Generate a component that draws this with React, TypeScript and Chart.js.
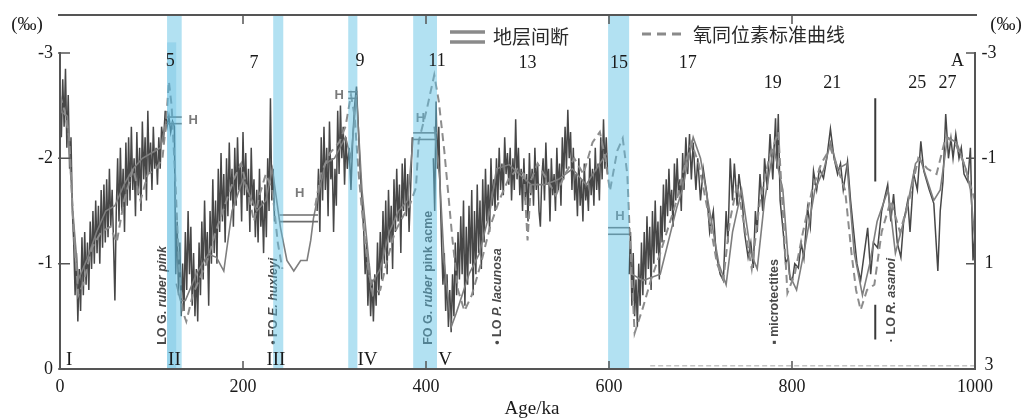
import { useEffect, useRef } from 'react';
import { Chart, registerables } from 'chart.js';

Chart.register(...registerables);

// ---------- axis definitions ----------
const AGE_MIN = 0;
const AGE_MAX = 1000;
const LEFT_TOP = -3.36;
const LEFT_BOTTOM = 0;
const RIGHT_TOP = -3.72;
const RIGHT_BOTTOM = 3;
const xTicks = [0, 200, 400, 600, 800, 1000];
const leftTicks = [-3, -2, -1, 0];
const rightTicks = [-3, -1, 1, 3];

// ---------- record (dark noisy line), segments separated by hiatuses ----------
const recordSegA: [number, number][] = [
  [0, -2.5], [1.5, -2.2], [3, -2.75], [4.5, -2.3], [6, -2.85], [7.5, -2.1], [9, -2.6], [10.5, -1.9],
  [12, -2.2], [13.5, -1.5], [15, -1.2], [16.5, -0.7], [18, -1.1], [19.5, -0.45], [21, -0.95], [22.5, -0.55],
  [24, -1.25], [25.5, -0.7], [27, -1.3], [28.5, -0.8], [30, -1.2], [31.5, -0.75], [33, -1.4], [34.5, -0.95],
  [36, -1.5], [37.5, -1.0], [39, -1.6], [40.5, -1.1], [42, -1.55], [43.5, -1.0], [45, -1.7], [46.5, -1.15],
  [48, -1.75], [49.5, -1.2], [51, -1.8], [52.5, -1.25], [54, -1.9], [55.5, -1.35], [57, -1.7], [58.5, -1.2],
  [60, -0.65], [61.5, -1.5], [63, -2.0], [64.5, -1.4], [66, -2.1], [67.5, -1.5], [69, -1.9], [70.5, -1.3],
  [72, -2.15], [73.5, -1.55], [75, -2.2], [76.5, -1.6], [78, -2.3], [79.5, -1.7], [81, -2.0], [82.5, -1.45],
  [84, -2.25], [85.5, -1.65], [87, -2.1], [88.5, -1.5], [90, -2.35], [91.5, -1.8], [93, -2.2], [94.5, -1.6],
  [96, -2.45], [97.5, -1.85], [99, -2.15], [100.5, -1.7], [102, -2.3], [103.5, -1.9], [105, -2.1], [106.5, -1.75],
  [108, -2.2], [109.5, -1.9], [111, -2.3], [113, -2.15], [115, -2.45], [117, -2.3], [119, -2.4], [121, -2.25],
  [123, -2.35], [125, -2.3], [126.5, -0.9], [128, -1.4], [129.5, -0.7], [131, -1.2], [132.5, -0.5], [134, -1.0],
  [135.5, -0.55], [137, -1.3], [138.5, -0.75], [140, -1.5], [141.5, -0.9], [143, -1.35], [144.5, -0.6], [146, -1.1],
  [147.5, -0.5], [149, -0.95], [150.5, -0.45], [152, -1.2], [153.5, -0.7], [155, -1.4], [156.5, -0.85], [158, -1.6],
  [159.5, -1.0], [161, -1.3], [162.5, -0.6], [164, -1.5], [165.5, -1.0], [167, -1.8], [168.5, -1.1], [170, -1.6],
  [171.5, -1.0], [173, -1.9], [174.5, -1.3], [176, -2.05], [177.5, -1.4], [179, -1.85], [180.5, -1.2], [182, -2.0],
  [183.5, -1.45], [185, -2.15], [186.5, -1.6], [188, -1.9], [189.5, -1.35], [191, -2.1], [192.5, -1.55], [194, -2.2],
  [195.5, -1.7], [197, -1.95], [198.5, -1.4], [200, -2.25], [201.5, -1.65], [203, -2.05], [204.5, -1.5], [206, -1.9],
  [207.5, -1.3], [209, -2.1], [210.5, -1.55], [212, -1.8], [213.5, -1.25], [215, -1.7], [216.5, -1.2], [218, -1.9],
  [219.5, -1.35], [221, -1.6], [222.5, -1.1], [224, -1.75], [225.5, -1.25], [227, -2.0], [228.5, -1.5], [230, -2.57],
  [231.5, -1.6], [233, -1.9], [234.5, -1.4],
];
const recordSegB: [number, number][] = [
  [281, -1.5], [282.5, -1.9], [284, -1.3], [285.5, -2.2], [287, -1.6], [288.5, -2.3], [290, -1.7], [291.5, -2.1],
  [293, -1.45], [294.5, -2.35], [296, -1.8], [297.5, -2.0], [299, -1.3], [300.5, -1.9], [302, -1.55], [303.5, -2.45],
  [305, -1.85], [306.5, -2.5], [308, -2.0], [309.5, -2.3], [311, -1.75], [312.5, -2.2], [314, -1.9], [316, -2.1],
  [318, -1.7], [320, -2.2], [322, -2.5], [324, -2.68], [326, -2.3], [328, -1.9], [330, -1.6], [332, -1.3],
  [333.5, -0.9], [335, -1.2], [336.5, -0.6], [338, -1.0], [339.5, -0.5], [341, -0.85], [342.5, -0.45], [344, -0.9],
  [345.5, -0.6], [347, -1.2], [348.5, -0.7], [350, -1.3], [351.5, -0.85], [353, -1.5], [354.5, -1.0], [356, -1.6],
  [357.5, -0.9], [359, -1.7], [360.5, -1.2], [362, -1.55], [363.5, -0.95], [365, -1.8], [366.5, -1.3], [368, -1.9],
  [369.5, -1.4], [371, -1.75], [372.5, -1.1], [374, -1.95], [375.5, -1.5], [377, -2.0], [378.5, -1.45], [380, -1.85],
  [381.5, -1.3], [383, -1.65], [385, -2.2],
];
const recordSegC: [number, number][] = [
  [408, -2.0], [409.5, -1.5], [411, -2.54], [412.5, -1.9], [414, -2.3], [415.5, -1.7], [417, -1.2], [418.5, -0.8],
  [420, -1.1], [421.5, -0.55], [423, -0.9], [424.5, -0.4], [426, -0.75], [427.5, -0.35], [429, -0.9], [430.5, -0.5],
  [432, -1.2], [433.5, -0.7], [435, -1.3], [436.5, -0.85], [438, -1.45], [439.5, -0.9], [441, -1.6], [442.5, -0.6],
  [444, -1.35], [445.5, -0.8], [447, -1.55], [448.5, -1.0], [450, -1.7], [451.5, -0.7], [453, -1.5], [454.5, -0.9],
  [456, -1.75], [457.5, -1.1], [459, -1.6], [460.5, -0.95], [462, -1.8], [463.5, -1.2], [465, -1.9], [466.5, -1.4],
  [468, -1.75], [469.5, -1.3], [471, -2.0], [472.5, -1.55], [474, -1.8], [475.5, -1.5], [477, -2.0], [478.5, -1.6],
  [480, -2.1], [481.5, -1.7], [483, -1.95], [484.5, -1.65], [486, -2.2], [487.5, -1.85], [489, -2.05], [490.5, -1.75],
  [492, -2.1], [493.5, -1.6], [495, -2.0], [496.5, -1.7], [498, -2.37], [499.5, -1.8], [501, -2.1], [502.5, -1.65],
  [504, -1.9], [505.5, -1.5], [507, -2.0], [508.5, -1.6], [510, -1.85], [511.5, -1.4], [513, -2.05], [514.5, -1.65],
  [516, -1.9], [517.5, -1.55], [519, -2.1], [520.5, -1.7], [522, -1.95], [523.5, -1.5], [525, -1.35], [526.5, -1.8],
  [528, -2.0], [529.5, -1.6], [531, -2.15], [532.5, -1.75], [534, -1.9], [535.5, -1.4], [537, -2.0], [538.5, -1.65],
  [540, -1.85], [541.5, -1.5], [543, -2.1], [544.5, -1.7], [546, -1.95], [547.5, -1.55], [549, -2.2], [550.5, -1.8],
  [552, -2.3], [553.5, -1.9], [555, -2.46], [556.5, -2.0], [558, -2.25], [559.5, -1.7], [561, -2.1], [562.5, -1.6],
  [564, -1.85], [565.5, -1.45], [567, -2.0], [568.5, -1.55], [570, -1.8], [571.5, -1.4], [573, -1.95], [574.5, -1.6],
  [576, -1.75], [577.5, -1.5], [579, -2.0], [580.5, -1.65], [582, -1.9], [583.5, -1.55], [585, -2.1], [586.5, -1.7],
  [588, -1.95], [589.5, -1.6], [591, -2.2], [592.5, -1.8], [594, -2.37], [595.5, -1.9], [597, -2.2], [598.5, -1.85],
];
const recordSegD: [number, number][] = [
  [622, -0.9], [623.5, -1.3], [625, -0.6], [626.5, -1.1], [628, -0.5], [629.5, -0.85], [631, -0.4], [632.5, -1.0],
  [634, -0.6], [635.5, -1.2], [637, -0.7], [638.5, -1.3], [640, -0.8], [641.5, -1.45], [643, -0.95], [644.5, -1.35],
  [646, -0.75], [647.5, -1.5], [649, -1.0], [650.5, -1.6], [652, -1.1], [653.5, -1.4], [655, -0.85], [656.5, -1.55],
  [658, -1.2], [659.5, -1.75], [661, -1.3], [662.5, -1.8], [664, -1.45], [665.5, -1.9], [667, -1.5], [668.5, -1.7],
  [670, -1.35], [671.5, -1.95], [673, -1.6], [674.5, -2.0], [676, -1.65], [677.5, -1.8], [679, -1.5], [680.5, -2.05],
  [682, -1.7], [684, -2.2], [686, -1.85], [688, -2.23], [690, -1.8], [692, -2.15], [695, -1.7], [697, -2.0],
  [700, -1.6], [703, -1.9], [707, -1.66], [710, -1.3], [714, -1.5], [717, -1.1], [721.5, -0.9], [725, -0.84],
  [728, -1.5], [730, -1.2], [732.5, -2.0], [735, -1.6], [737, -1.95], [740, -1.55], [742, -1.85], [745.6, -1.6],
  [748, -1.3], [752, -1.06], [755, -1.2], [757.7, -0.96], [760, -1.5], [762, -1.3], [765, -1.85], [768, -1.5],
  [770, -2.0], [773, -1.7], [776, -2.23], [779, -1.8], [782, -2.38], [783.5, -1.9], [785, -2.42], [787, -1.6],
  [790.6, -1.28], [793, -1.0], [796, -1.06], [798, -0.85], [800.4, -0.84], [803, -1.0], [807, -0.96], [810, -1.2],
  [813, -1.05], [817, -1.53], [820, -1.35], [823.5, -1.88], [827, -1.7], [830, -1.9], [834.4, -1.81], [838, -2.0],
  [842, -2.28], [846, -2.0], [849.8, -1.85], [853, -1.95], [856, -1.7], [860.7, -1.97], [864, -1.6], [867, -1.34],
  [871, -1.0], [875, -0.84], [879, -1.1], [882.7, -1.34], [886, -0.9], [889, -1.2], [893.6, -1.15], [898, -1.5],
  [904.6, -1.75], [908, -1.4], [911, -1.66], [915, -1.2], [919, -1.06], [922, -1.4], [926.5, -1.6], [929, -1.3],
  [933, -1.85], [937, -1.7], [940.8, -2.16], [944, -1.88], [950, -1.7], [955, -1.57], [959.4, -0.93], [962, -1.5],
  [965, -1.78], [968, -2.42], [971, -2.0], [973.7, -2.19], [976, -2.0], [979, -2.23], [982.5, -2.0], [985, -2.1],
  [988, -1.85], [992, -1.78], [995, -2.1], [997.8, -1.03], [1000, -1.3],
];

// ---------- smoothed record (medium grey solid line) ----------
const smoothSegA: [number, number][] = [
  [0, -2.45], [8, -2.4], [14, -1.5], [20, -0.85], [30, -1.05], [40, -1.3], [50, -1.5], [60, -1.55], [70, -1.75],
  [80, -1.9], [90, -2.0], [100, -2.05], [110, -2.1], [116, -2.35],
];
const smoothSegB: [number, number][] = [
  [127, -0.81], [131.6, -0.65], [137, -0.65], [149, -0.9], [162, -1.09], [171, -1.06], [179, -0.93], [188, -1.5],
  [200, -1.8], [215, -1.5], [225, -1.6], [232, -1.9], [241, -1.34], [248, -1.03], [255.5, -0.93], [263, -1.03],
  [270, -1.03], [274, -1.22], [277, -1.43], [281, -1.6], [290, -1.95], [300, -2.0], [312, -2.2], [318, -2.0],
  [324, -2.6], [330, -1.7], [340, -0.8], [350, -0.95], [360, -1.3], [370, -1.5], [380, -1.6], [386, -2.2],
];
const smoothSegC: [number, number][] = [
  [409, -2.3], [415, -1.8], [420, -1.0], [427.6, -0.4], [433, -0.53], [447, -0.9], [458, -1.09], [470, -1.5],
  [477, -1.9], [491, -1.94], [502, -1.85], [515, -1.75], [530, -1.75], [545, -1.8], [560, -1.9], [575, -1.75],
  [590, -1.95], [598, -2.05],
];
const smoothSegD: [number, number][] = [
  [625, -0.9], [637, -0.84], [656, -0.9], [674, -1.53], [680, -1.7], [692, -2.2], [700, -2.0], [710, -1.5],
  [720, -1.0], [728, -0.8], [735, -1.3], [745, -1.7], [755, -1.1], [762, -0.95], [770, -1.6], [780, -2.1],
  [790, -1.7], [797, -0.9], [805, -0.75], [815, -1.2], [825, -1.7], [835, -1.9], [842, -2.15], [850, -1.9],
  [860, -1.95], [868, -1.1], [877, -0.7], [885, -1.0], [893, -1.4], [905, -1.7], [913, -1.1], [925, -1.5],
  [935, -1.95], [940, -2.0], [955, -1.6], [962, -1.7], [970, -2.2], [980, -2.15], [990, -1.9], [995, -1.7],
  [1000, -1.2],
];

// ---------- oxygen isotope standard curve (dashed), hidden across the MIS 8 hiatus ----------
const standardCurveA: [number, number][] = [
  [0, -2.6], [5, -2.45], [10, -2.2], [15, -1.3], [20, -0.7], [25, -0.8], [35, -1.15], [45, -1.3], [55, -1.35],
  [62, -1.2], [70, -1.6], [80, -1.9], [88, -1.6], [96, -1.85], [105, -1.9], [112, -2.0], [116, -2.35], [119, -2.73],
  [122, -2.5], [126, -1.8], [130, -1.0], [134, -0.55], [138, -0.45], [145, -0.7], [152, -0.85], [160, -1.0],
  [170, -1.3], [180, -1.55], [190, -1.8], [198, -1.95], [205, -1.7], [212, -1.4], [218, -1.65], [225, -1.85],
  [232, -1.7], [238, -1.2], [243, -0.95],
];
const standardCurveB: [number, number][] = [
  [279, -1.55], [285, -1.85],
  [295, -2.05], [305, -2.15], [312, -2.3], [318, -2.6], [322, -2.4], [326, -1.9], [330, -1.5], [336, -1.0],
  [342, -0.7], [350, -0.75], [358, -1.05], [366, -1.3], [375, -1.45], [382, -1.55], [389, -1.72], [392, -2.16],
  [401, -2.47], [409, -2.79], [414, -2.54], [420, -2.07], [425, -1.6], [429, -1.22], [435, -0.75], [442, -0.55],
  [450, -0.7], [460, -1.0], [470, -1.35], [480, -1.6], [490, -1.8], [500, -1.9], [507, -1.85], [511, -1.22],
  [515, -1.8], [522, -1.95], [532, -1.8], [542, -1.65], [552, -1.85], [562, -2.0], [572, -1.85], [582, -2.15],
  [590, -2.25], [596, -2.0], [601, -1.69], [609, -2.07], [615, -2.19], [620, -1.85], [623, -1.22], [628, -0.34],
  [637, -0.58], [646, -0.85], [656, -1.1], [665, -1.35], [674, -1.6], [682, -1.9], [690, -2.15], [698, -1.95],
  [708, -1.5], [718, -1.0], [725, -0.85], [732, -1.4], [740, -1.75], [748, -1.35], [756, -0.95], [765, -1.6],
  [775, -2.0], [785, -2.25], [790, -1.5], [795, -0.72], [803, -0.9], [812, -1.3], [822, -1.7], [832, -1.95],
  [842, -2.1], [850, -1.9], [858, -1.7], [865, -1.1], [870, -0.75], [875, -0.56], [882, -0.75], [890, -0.8],
  [898, -1.3], [908, -1.6], [918, -1.3], [928, -1.6], [938, -2.0], [948, -1.9], [958, -1.85], [968, -2.2],
  [978, -2.15], [988, -1.95], [1000, -1.6],
];

// faint dashed trace along the base (650–1000 ka)
const baseTrace: [number, number][] = [[645, -0.03], [1000, -0.03]];
// vertical marker bars near 891 ka
const markerUpper: [number, number][] = [[891, -2.57], [891, -1.78]];
const markerLower: [number, number][] = [[891, -0.61], [891, -0.28]];

// ---------- annotations ----------
const bandStart = [117, 233, 315, 386, 599];
const bandEnd = [133, 244, 325, 412, 622];
const misText = ['5', '7', '9', '11', '13', '15', '17', '19', '21', '25', '27', 'A'];
const misAge = [120.6, 212, 328, 412, 511, 611, 686, 779, 844, 937, 970, 981];
const misValue = [-2.92, -2.9, -2.92, -2.92, -2.9, -2.9, -2.9, -2.71, -2.71, -2.71, -2.71, -2.92];
const romanText = ['I', 'II', 'III', 'IV', 'V'];
const romanAge = [10, 125, 236, 336, 421];
const hiatusStart = [117, 240, 315, 386, 599];
const hiatusEnd = [133, 282, 325, 412, 623];
const hiatusValue = [-2.36, -1.43, -2.6, -2.21, -1.31];
const hiatusLabelAge = [145.5, 262, 305, 394, 612];
const hiatusLabelValue = [-2.36, -1.67, -2.6, -2.38, -1.45];
type Part = { t: string; i: boolean };
const eventLabels: { age: number; parts: Part[] }[] = [
  { age: 112.5, parts: [{ t: 'LO G. ', i: false }, { t: 'ruber pink', i: true }] },
  { age: 233, parts: [{ t: '• FO ', i: false }, { t: 'E. huxleyi', i: true }] },
  { age: 403, parts: [{ t: 'FO G. ', i: false }, { t: 'ruber', i: true }, { t: ' pink acme', i: false }] },
  { age: 478, parts: [{ t: '• LO ', i: false }, { t: 'P. lacunosa', i: true }] },
  { age: 781, parts: [{ t: '▪ microtectites', i: false }] },
  { age: 909, parts: [{ t: '· LO ', i: false }, { t: 'R. asanoi', i: true }] },
];

const GAP = (x: number): [number, any] => [x, null];

const toXY = (arr: [number, any][]) => arr.map(([x, y]) => ({ x, y }));

const SERIF = '"Liberation Serif", "DejaVu Serif", serif';
const SANS = '"Liberation Sans", Arial, sans-serif';
const CJK = '"Noto Sans CJK SC", sans-serif';

export default function App() {
  const ref = useRef<HTMLCanvasElement | null>(null);

  useEffect(() => {
    if (!ref.current) return;

    const decor = {
      id: 'decor',
      afterDatasetsDraw(chart: any) {
        const ctx = chart.ctx as CanvasRenderingContext2D;
        const xs = chart.scales.x;
        const ys = chart.scales.y;
        const y2 = chart.scales.y2;
        const area = chart.chartArea;
        const px = (v: number) => xs.getPixelForValue(v);
        const py = (v: number) => ys.getPixelForValue(v);
        ctx.save();

        // rotated event labels
        eventLabels.forEach((lab, idx) => {
          ctx.save();
          ctx.translate(px(lab.age), idx === 5 ? py(-0.255) : py(-0.23));
          ctx.rotate(-Math.PI / 2);
          ctx.textBaseline = 'middle';
          ctx.textAlign = 'left';
          ctx.fillStyle = '#4a4a4a';
          let off = 0;
          lab.parts.forEach((p) => {
            ctx.font = `${p.i ? 'italic ' : ''}bold 12.5px ${SANS}`;
            ctx.fillText(p.t, off, 0);
            off += ctx.measureText(p.t).width;
          });
          ctx.restore();
        });

        // hiatus markers
        ctx.strokeStyle = '#6c6c6c';
        ctx.lineWidth = 1.6;
        hiatusStart.forEach((s, i) => {
          const x0 = px(s);
          const x1 = px(hiatusEnd[i]);
          const yc = py(hiatusValue[i]);
          [yc - 3.3, yc + 3.3].forEach((yy) => {
            ctx.beginPath();
            ctx.moveTo(x0, yy);
            ctx.lineTo(x1, yy);
            ctx.stroke();
          });
          ctx.fillStyle = '#7a7a7a';
          ctx.font = `bold 13px ${SANS}`;
          ctx.textAlign = 'center';
          ctx.textBaseline = 'middle';
          ctx.fillText('H', px(hiatusLabelAge[i]), py(hiatusLabelValue[i]));
        });

        // blue bands (semi-transparent over lines)
        bandStart.forEach((s, i) => {
          ctx.fillStyle = 'rgba(95, 192, 228, 0.48)';
          ctx.fillRect(px(s), area.top, px(bandEnd[i]) - px(s), area.bottom - area.top);
        });
        ctx.fillStyle = 'rgba(70, 170, 215, 0.25)';
        ctx.fillRect(px(117), py(-3.1), px(127) - px(117), area.bottom - py(-3.1));

        // frame / axes
        ctx.strokeStyle = '#555';
        ctx.lineWidth = 2;
        ctx.beginPath();
        ctx.moveTo(area.left - 2, area.top);
        ctx.lineTo(area.right + 2, area.top);
        ctx.moveTo(area.left, py(-3) - 1);
        ctx.lineTo(area.left, area.bottom);
        ctx.lineTo(area.right, area.bottom);
        ctx.lineTo(area.right, py(-3) - 1);
        ctx.stroke();
        ctx.lineWidth = 1.5;
        ctx.beginPath();
        xTicks.slice(1, -1).forEach((t) => {
          ctx.moveTo(px(t), area.bottom);
          ctx.lineTo(px(t), area.bottom - 8);
          ctx.moveTo(px(t), area.top);
          ctx.lineTo(px(t), area.top + 9);
        });
        leftTicks.forEach((t) => {
          ctx.moveTo(area.left - 2, py(t));
          ctx.lineTo(area.left + 10, py(t));
        });
        rightTicks.forEach((t) => {
          ctx.moveTo(area.right + 1, y2.getPixelForValue(t));
          ctx.lineTo(area.right - 9, y2.getPixelForValue(t));
        });
        ctx.stroke();

        // tick labels
        ctx.fillStyle = '#1a1a1a';
        ctx.font = `18px ${SERIF}`;
        ctx.textBaseline = 'middle';
        ctx.textAlign = 'right';
        leftTicks.forEach((t) => ctx.fillText(t < 0 ? `-${Math.abs(t)}` : `${t}`, area.left - 7, py(t)));
        ctx.textAlign = 'center';
        rightTicks.forEach((t) =>
          ctx.fillText(t < 0 ? `-${Math.abs(t)}` : `${t}`, area.right + 14, y2.getPixelForValue(t) - (t === 3 ? 4 : 0))
        );
        xTicks.forEach((t) => ctx.fillText(`${t}`, px(t), area.bottom + 18));
        ctx.font = `19px ${SERIF}`;
        ctx.fillText('Age/ka', 532, area.bottom + 40);
        ctx.fillText('(‰)', 27, 25);
        ctx.fillText('(‰)', 1006, 25);

        // MIS numbers and roman numerals
        ctx.font = `18px ${SERIF}`;
        misText.forEach((t, i) => ctx.fillText(t, px(misAge[i]), py(misValue[i])));
        ctx.font = `19px ${SERIF}`;
        romanText.forEach((t, i) => ctx.fillText(t, px(romanAge[i]), area.bottom - 9));

        // legend
        ctx.strokeStyle = '#8a8a8a';
        ctx.lineWidth = 3.5;
        ctx.beginPath();
        ctx.moveTo(450, 32);
        ctx.lineTo(485, 32);
        ctx.moveTo(450, 42);
        ctx.lineTo(485, 42);
        ctx.stroke();
        ctx.setLineDash([9, 6]);
        ctx.lineWidth = 3;
        ctx.beginPath();
        ctx.moveTo(642, 34);
        ctx.lineTo(686, 34);
        ctx.stroke();
        ctx.setLineDash([]);
        ctx.fillStyle = '#2a2a2a';
        ctx.font = `19px ${CJK}`;
        ctx.textAlign = 'left';
        ctx.fillText('地层间断', 493, 37);
        ctx.fillText('氧同位素标准曲线', 693, 35);

        ctx.restore();
      },
    };

    const recordData = [
      ...recordSegA, GAP(260), ...recordSegB, GAP(396), ...recordSegC, GAP(610), ...recordSegD,
    ];
    const smoothData = [
      ...smoothSegA, GAP(121), ...smoothSegB, GAP(398), ...smoothSegC, GAP(611), ...smoothSegD,
    ];
    const standardData = [...standardCurveA, GAP(262), ...standardCurveB];

    const chart = new Chart(ref.current, {
      type: 'line',
      data: {
        datasets: [
          {
            label: 'base',
            data: toXY(baseTrace),
            borderColor: '#c4c4c4',
            borderWidth: 1.5,
            borderDash: [5, 3],
            pointRadius: 0,
          },
          {
            label: '氧同位素标准曲线',
            data: toXY(standardData),
            borderColor: '#8c8c8c',
            borderWidth: 2,
            borderDash: [8, 5],
            pointRadius: 0,
            spanGaps: false,
          },
          {
            label: 'smooth',
            data: toXY(smoothData),
            borderColor: '#7e7e7e',
            borderWidth: 1.6,
            pointRadius: 0,
            spanGaps: false,
          },
          {
            label: 'record',
            data: toXY(recordData),
            borderColor: '#474747',
            borderWidth: 1.5,
            pointRadius: 0,
            spanGaps: false,
          },
          {
            label: 'marker1',
            data: toXY(markerUpper),
            borderColor: '#3a3a3a',
            borderWidth: 2,
            pointRadius: 0,
          },
          {
            label: 'marker2',
            data: toXY(markerLower),
            borderColor: '#3a3a3a',
            borderWidth: 2,
            pointRadius: 0,
          },
        ],
      },
      options: {
        animation: false,
        responsive: false,
        maintainAspectRatio: false,
        layout: { padding: { left: 60, right: 49, top: 15, bottom: 51 } },
        elements: { line: { tension: 0 }, point: { radius: 0 } },
        scales: {
          x: { type: 'linear', min: AGE_MIN, max: AGE_MAX, display: false },
          y: { type: 'linear', min: LEFT_TOP, max: LEFT_BOTTOM, reverse: true, display: false },
          y2: { type: 'linear', min: RIGHT_TOP, max: RIGHT_BOTTOM, reverse: true, display: false, position: 'right' },
        },
        plugins: { legend: { display: false }, tooltip: { enabled: false } },
      },
      plugins: [decor],
    });

    return () => chart.destroy();
  }, []);

  return (
    <div style={{ position: 'fixed', left: 0, top: 0, width: 1024, height: 420, background: '#fff' }}>
      <canvas ref={ref} width={1024} height={420} style={{ display: 'block' }} />
    </div>
  );
}
